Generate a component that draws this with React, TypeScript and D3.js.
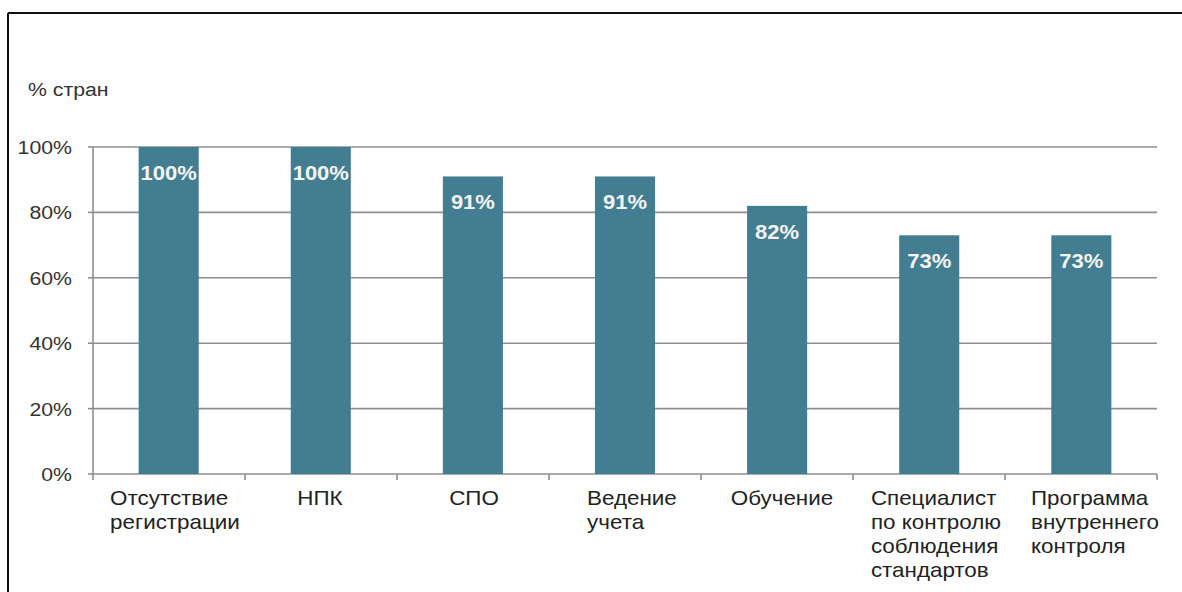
import React from "react";
import * as d3 from "d3";

const categories: string[][] = [
  ["Отсутствие", "регистрации"],
  ["НПК"],
  ["СПО"],
  ["Ведение", "учета"],
  ["Обучение"],
  ["Специалист", "по контролю", "соблюдения", "стандартов"],
  ["Программа", "внутреннего", "контроля"],
];
const values: number[] = [100, 100, 91, 91, 82, 73, 73];
const yTicks: number[] = [0, 20, 40, 60, 80, 100];
const yTitle = "% стран";

// layout only: horizontal nudges of the category label blocks
const labelNudge: number[] = [6, -1, 1, 7, 5, 7, 14];

const W = 1182;
const H = 592;
const SX = 1.12;

let ctx: CanvasRenderingContext2D | null = null;
function measure(text: string, font: string): number {
  if (!ctx) ctx = document.createElement("canvas").getContext("2d");
  if (!ctx) return text.length * 10;
  ctx.font = font;
  return ctx.measureText(text).width;
}

export default function App() {
  const left = 93;
  const right = 1157;
  const top = 147;
  const bottom = 474;
  const x = d3
    .scaleBand<number>()
    .domain(values.map((_, i) => i))
    .range([left, right])
    .paddingInner(0.605)
    .paddingOuter(0.3);
  const step = (right - left) / values.length;
  const y = d3.scaleLinear().domain([0, 100]).range([bottom, top]);
  const grid = "#8e8e8e";
  const font = "'Liberation Sans', Arial, sans-serif";

  return (
    <svg
      width={W}
      height={H}
      style={{ position: "absolute", left: 0, top: 0, background: "#fff" }}
    >
      <rect x={0} y={0} width={W} height={H} fill="#fff" />
      <line x1={8} y1={13} x2={W} y2={13} stroke="#111" strokeWidth={2} />
      <line x1={8} y1={13} x2={8} y2={H} stroke="#111" strokeWidth={2} />

      <text
        transform={`translate(28,96) scale(${SX},1)`}
        fontFamily={font}
        fontSize={19}
        fill="#333"
      >
        {yTitle}
      </text>

      {yTicks.map((t) => (
        <g key={t}>
          <line x1={left} x2={right} y1={y(t)} y2={y(t)} stroke={grid} strokeWidth={1.6} />
          <line x1={left - 5} x2={left} y1={y(t)} y2={y(t)} stroke={grid} strokeWidth={1.6} />
          <text
            transform={`translate(72,${y(t) + 7}) scale(${SX},1)`}
            textAnchor="end"
            fontFamily={font}
            fontSize={19}
            fill="#333"
          >
            {t}%
          </text>
        </g>
      ))}
      <line x1={left} x2={left} y1={top} y2={bottom} stroke={grid} strokeWidth={1.6} />
      {d3.range(values.length + 1).map((i) => (
        <line
          key={i}
          x1={left + i * step}
          x2={left + i * step}
          y1={bottom}
          y2={bottom + 6}
          stroke={grid}
          strokeWidth={1.6}
        />
      ))}

      {values.map((v, i) => (
        <g key={i}>
          <rect
            x={x(i)}
            y={y(v)}
            width={x.bandwidth()}
            height={bottom - y(v)}
            fill="#437d91"
          />
          <text
            transform={`translate(${(x(i) as number) + x.bandwidth() / 2},${y(v) + 33}) scale(1.1,1)`}
            textAnchor="middle"
            fontFamily={font}
            fontSize={20}
            fontWeight="bold"
            fill="#f4f4f4"
          >
            {v}%
          </text>
        </g>
      ))}

      {categories.map((lines, i) => {
        const fs = 20;
        const wmax = Math.max(...lines.map((l) => measure(l, `${fs}px ${font}`))) * SX;
        const cx = left + step * (i + 0.5) + labelNudge[i];
        const x0 = cx - wmax / 2;
        return (
          <g key={i}>
            {lines.map((l, j) => (
              <text
                key={j}
                transform={`translate(${x0},${505 + j * 24}) scale(${SX},1)`}
                fontFamily={font}
                fontSize={fs}
                fill="#222"
              >
                {l}
              </text>
            ))}
          </g>
        );
      })}
    </svg>
  );
}
